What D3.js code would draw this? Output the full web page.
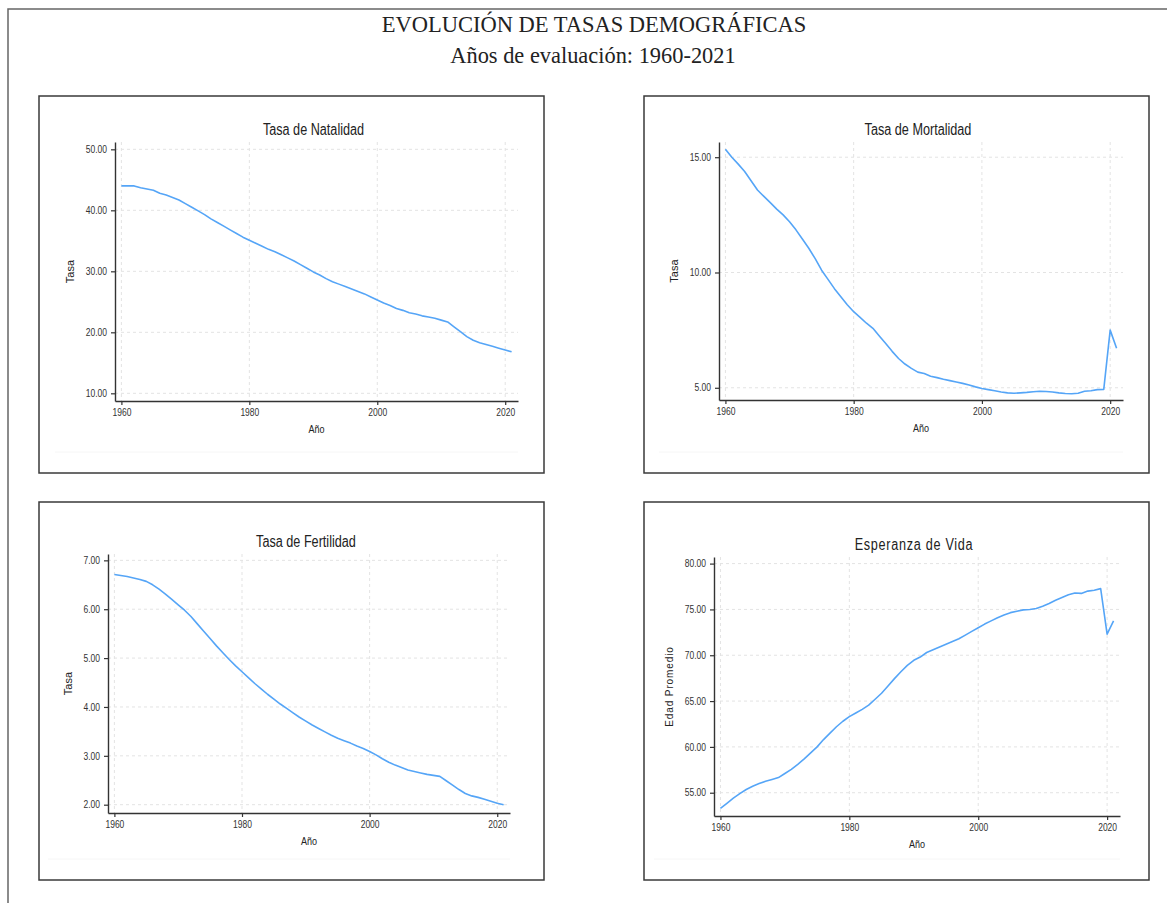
<!DOCTYPE html>
<html>
<head>
<meta charset="utf-8">
<script src="https://cdn.jsdelivr.net/npm/d3@7/dist/d3.min.js"></script>
<style>
  body { margin: 0; background: #fff; }
  svg { display: block; }
</style>
</head>
<body>
<svg id="chart" width="1167" height="903"></svg>
<script>
//
// Four small line charts of demographic rates, 1960-2021.
//
var years = d3.range(1960, 2022);
var xTicks = [1960, 1980, 2000, 2020];

var natalidad = [44.0, 44.0, 44.0, 43.7, 43.5, 43.3, 42.8, 42.5, 42.1, 41.7,
                 41.1, 40.5, 39.9, 39.3, 38.6, 38.0, 37.4, 36.8, 36.2, 35.6,
                 35.1, 34.6, 34.1, 33.6, 33.2, 32.7, 32.2, 31.7, 31.1, 30.5,
                 29.9, 29.4, 28.8, 28.3, 27.9, 27.5, 27.1, 26.7, 26.3, 25.8,
                 25.3, 24.8, 24.4, 23.9, 23.6, 23.2, 23.0, 22.7, 22.5, 22.3,
                 22.0, 21.7, 20.9, 20.1, 19.3, 18.7, 18.3, 18.0, 17.7, 17.4,
                 17.1, 16.8];
var mortalidad = [15.35, 15.0, 14.7, 14.38, 13.98, 13.58, 13.3, 13.03, 12.75, 12.5,
                  12.2, 11.85, 11.45, 11.05, 10.6, 10.1, 9.7, 9.3, 8.95, 8.6,
                  8.3, 8.05, 7.8, 7.58, 7.25, 6.92, 6.58, 6.27, 6.03, 5.84,
                  5.68, 5.62, 5.5, 5.44, 5.37, 5.31, 5.25, 5.19, 5.12, 5.04,
                  4.97, 4.92, 4.87, 4.82, 4.78, 4.76, 4.78, 4.80, 4.83, 4.85,
                  4.84, 4.82, 4.78, 4.75, 4.74, 4.76, 4.85, 4.87, 4.92, 4.93,
                  7.5, 6.71];
var fertilidad = [6.71, 6.69, 6.67, 6.64, 6.61, 6.57, 6.50, 6.41, 6.31, 6.20,
                  6.09, 5.98, 5.85, 5.70, 5.55, 5.40, 5.25, 5.11, 4.97, 4.84,
                  4.72, 4.60, 4.48, 4.37, 4.26, 4.16, 4.06, 3.97, 3.88, 3.79,
                  3.71, 3.63, 3.56, 3.49, 3.42, 3.36, 3.31, 3.26, 3.20, 3.15,
                  3.09, 3.02, 2.94, 2.87, 2.81, 2.76, 2.71, 2.68, 2.65, 2.62,
                  2.60, 2.58, 2.49, 2.40, 2.31, 2.23, 2.18, 2.15, 2.11, 2.07,
                  2.03, 2.00];
var esperanza = [53.3, 53.85, 54.4, 54.9, 55.35, 55.7, 56.0, 56.25, 56.45, 56.65,
                 57.1, 57.55, 58.1, 58.7, 59.35, 60.0, 60.8, 61.5, 62.2, 62.8,
                 63.3, 63.7, 64.1, 64.55, 65.2, 65.85, 66.65, 67.45, 68.2, 68.9,
                 69.45, 69.8, 70.3, 70.6, 70.9, 71.2, 71.5, 71.8, 72.2, 72.6,
                 73.0, 73.4, 73.75, 74.1, 74.4, 74.65, 74.8, 74.95, 75.0, 75.1,
                 75.35, 75.65, 76.0, 76.3, 76.6, 76.8, 76.75, 77.0, 77.1, 77.27,
                 72.3, 73.75];

var ticksNatalidad = [10, 20, 30, 40, 50];
var ticksMortalidad = [5, 10, 15];
var ticksFertilidad = [2, 3, 4, 5, 6, 7];
var ticksEsperanza = [55, 60, 65, 70, 75, 80];

var panels = [
  {title: 'Tasa de Natalidad', yLabel: 'Tasa', values: natalidad, yTicks: ticksNatalidad,
   yDomain: [8.74, 51.2], box: [39, 96, 505, 377], plot: {l: 115, t: 142, r: 518, b: 401}, labelDx: 45},
  {title: 'Tasa de Mortalidad', yLabel: 'Tasa', values: mortalidad, yTicks: ticksMortalidad,
   yDomain: [4.47, 15.66], box: [644, 96, 505, 377], plot: {l: 719, t: 142, r: 1123, b: 400}, labelDx: 45},
  {title: 'Tasa de Fertilidad', yLabel: 'Tasa', values: fertilidad, yTicks: ticksFertilidad,
   yDomain: [1.83, 7.13], box: [39, 502, 505, 378], plot: {l: 108, t: 554, r: 510, b: 813}, labelDx: 40},
  {title: 'Esperanza de Vida', yLabel: 'Edad Promedio', values: esperanza, yTicks: ticksEsperanza,
   yDomain: [52.46, 80.72], box: [644, 502, 505, 378], plot: {l: 714, t: 557, r: 1120, b: 816}, labelDx: 45, spaced: true}
];

var svg = d3.select('#chart');
var sans = '"Liberation Sans", Arial, sans-serif';

// squeeze a text horizontally, keeping its height
function condense(sel, k) {
  sel.each(function() {
    var w = this.getComputedTextLength();
    d3.select(this).attr('textLength', w * k).attr('lengthAdjust', 'spacingAndGlyphs');
  });
}

// page frame (top and left edges only)
svg.append('path')
  .attr('d', 'M8,903V9H1167')
  .attr('fill', 'none')
  .attr('stroke', '#666')
  .attr('stroke-width', 1.5);

svg.append('text')
  .attr('x', 594).attr('y', 32)
  .attr('text-anchor', 'middle')
  .style('font-family', '"Liberation Serif", "Times New Roman", serif')
  .style('font-size', '22.5px')
  .style('fill', '#222')
  .text('EVOLUCIÓN DE TASAS DEMOGRÁFICAS');

svg.append('text')
  .attr('x', 593).attr('y', 63)
  .attr('text-anchor', 'middle')
  .style('font-family', '"Liberation Serif", "Times New Roman", serif')
  .style('font-size', '22.4px')
  .style('fill', '#222')
  .text('Años de evaluación: 1960-2021');

panels.forEach(function(p) {
  var g = svg.append('g').attr('class', 'panel');
  var pl = p.plot;

  g.append('rect')
    .attr('x', p.box[0]).attr('y', p.box[1])
    .attr('width', p.box[2]).attr('height', p.box[3])
    .attr('fill', '#fff')
    .attr('stroke', '#3a3a3a')
    .attr('stroke-width', 1.5);

  // faint bottom edge of the pasted figure
  g.append('line')
    .attr('x1', pl.l - 60).attr('x2', pl.r)
    .attr('y1', p.box[1] + p.box[3] - 21).attr('y2', p.box[1] + p.box[3] - 21)
    .attr('stroke', '#f6f6f6');

  var x = d3.scaleLinear().domain([1959, 2022]).range([pl.l, pl.r]);
  var y = d3.scaleLinear().domain(p.yDomain).range([pl.b, pl.t]);

  // dashed grid
  g.append('g').selectAll('line')
    .data(xTicks)
    .enter().append('line')
    .attr('x1', function(d) { return x(d); })
    .attr('x2', function(d) { return x(d); })
    .attr('y1', pl.t).attr('y2', pl.b)
    .attr('stroke', '#e3e3e3')
    .style('stroke-dasharray', '3, 3');
  g.append('g').selectAll('line')
    .data(p.yTicks)
    .enter().append('line')
    .attr('x1', pl.l).attr('x2', pl.r)
    .attr('y1', function(d) { return y(d); })
    .attr('y2', function(d) { return y(d); })
    .attr('stroke', '#e3e3e3')
    .style('stroke-dasharray', '3, 3');

  // the series
  var line = d3.line()
    .x(function(d, i) { return x(years[i]); })
    .y(function(d) { return y(d); });
  g.append('path')
    .datum(p.values)
    .attr('d', line)
    .attr('fill', 'none')
    .attr('stroke', '#55a5f7')
    .attr('stroke-width', 1.6)
    .attr('stroke-linejoin', 'round');

  // axes
  var xAxis = g.append('g')
    .attr('transform', 'translate(0,' + pl.b + ')')
    .call(d3.axisBottom(x).tickValues(xTicks).tickFormat(d3.format('d'))
      .tickSize(4).tickSizeOuter(0).tickPadding(4));
  var yAxis = g.append('g')
    .attr('transform', 'translate(' + pl.l + ',0)')
    .call(d3.axisLeft(y).tickValues(p.yTicks).tickFormat(d3.format('.2f'))
      .tickSize(4).tickSizeOuter(0).tickPadding(4));

  [xAxis, yAxis].forEach(function(a) {
    a.select('.domain').attr('stroke', '#333').attr('stroke-width', 1.4);
    a.selectAll('.tick line').attr('stroke', '#333').attr('stroke-width', 1.2);
    a.selectAll('.tick text')
      .style('font-family', sans)
      .style('font-size', '10px')
      .attr('fill', '#333')
      .call(condense, 0.85);
  });

  // titles
  var title = g.append('text')
    .attr('x', (pl.l + pl.r) / 2 - 3).attr('y', pl.t - 7)
    .attr('text-anchor', 'middle')
    .style('font-family', sans)
    .style('font-size', '16px')
    .style('letter-spacing', p.spaced ? '0.9px' : '0px')
    .style('fill', '#222')
    .text(p.title);
  condense(title, 0.79);

  var xLabel = g.append('text')
    .attr('x', (pl.l + pl.r) / 2).attr('y', pl.b + 32)
    .attr('text-anchor', 'middle')
    .style('font-family', sans)
    .style('font-size', '11px')
    .style('fill', '#222')
    .text('Año');
  condense(xLabel, 0.82);

  g.append('text')
    .attr('transform', 'translate(' + (pl.l - p.labelDx + 4) + ',' + (pl.t + pl.b) / 2 + ') rotate(-90)')
    .attr('text-anchor', 'middle')
    .style('font-family', sans)
    .style('font-size', p.spaced ? '10px' : '11px')
    .style('letter-spacing', p.spaced ? '0.9px' : '0px')
    .style('fill', '#222')
    .text(p.yLabel);
});
</script>
</body>
</html>
